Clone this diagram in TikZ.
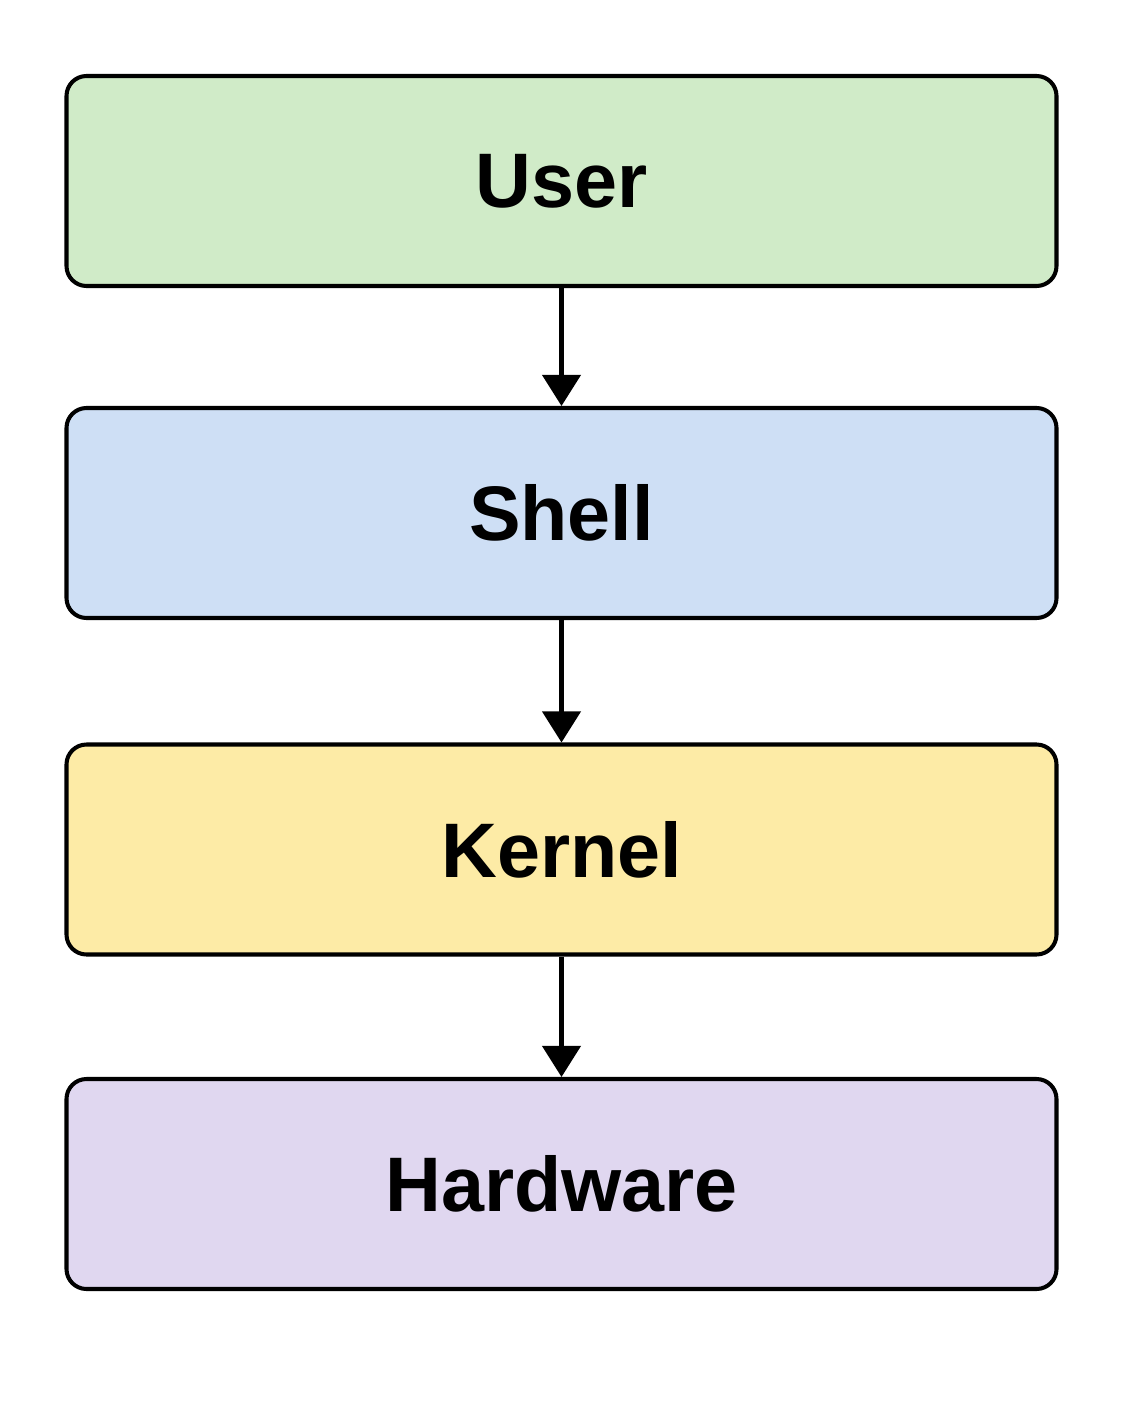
\documentclass[tikz,border=0pt]{standalone}
\usepackage{fontspec}
\setmainfont{Liberation Sans}
\usetikzlibrary{arrows.meta}
\definecolor{usergreen}{HTML}{D0EBC8}
\definecolor{shellblue}{HTML}{CEDFF5}
\definecolor{kernelyellow}{HTML}{FDEBA6}
\definecolor{hwpurple}{HTML}{E0D7F0}
\begin{document}
\begin{tikzpicture}
    % Define styles
    \tikzstyle{layer} = [draw, line width=2.3pt, rounded corners=0.4cm, minimum width=19.8cm, minimum height=4.2cm, align=center, font=\fontsize{44}{50}\selectfont\bfseries]
    \tikzstyle{arrow} = [-{Triangle[width=0.76cm,length=0.62cm]}, line width=2.3pt]

    \useasboundingbox[fill=white] (0,0) rectangle (22.44,-28.04);

    % Layers
    \node[layer, fill=usergreen] (user) at (11.23,-3.62) {User};
    \node[layer, fill=shellblue] (shell) at (11.23,-10.26) {Shell};
    \node[layer, fill=kernelyellow] (kernel) at (11.23,-16.99) {Kernel};
    \node[layer, fill=hwpurple] (hardware) at (11.23,-23.68) {Hardware};

    % Arrows between layers
    \draw[arrow] (user) -- (shell);
    \draw[arrow] (shell) -- (kernel);
    \draw[arrow] (kernel) -- (hardware);
\end{tikzpicture}
\end{document}
